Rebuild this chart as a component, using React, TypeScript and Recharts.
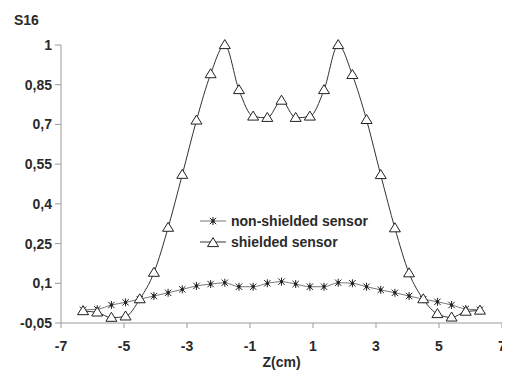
import { Line, LineChart, XAxis, YAxis } from "recharts";

// probe position along the axis (cm)
const zPositions = [
  -6.3, -5.85, -5.4, -4.95, -4.5, -4.05, -3.6, -3.15, -2.7, -2.25, -1.8, -1.35, -0.9, -0.45, 0,
  0.45, 0.9, 1.35, 1.8, 2.25, 2.7, 3.15, 3.6, 4.05, 4.5, 4.95, 5.4, 5.85, 6.3,
];

const nonShielded = [
  0.0, 0.002, 0.018, 0.028, 0.04, 0.052, 0.064, 0.077, 0.09, 0.097, 0.102, 0.087, 0.087, 0.1, 0.106,
  0.097, 0.087, 0.087, 0.102, 0.1, 0.087, 0.075, 0.064, 0.052, 0.04, 0.03, 0.018, 0.003, 0.0,
];

const shielded = [
  -0.005, -0.01, -0.03, -0.025, 0.04, 0.14, 0.31, 0.51, 0.715, 0.89, 1.0, 0.83, 0.73, 0.725, 0.79,
  0.725, 0.73, 0.83, 1.0, 0.887, 0.717, 0.509, 0.308, 0.138, 0.04, -0.016, -0.029, -0.007, -0.003,
];

const xTicks = [-7, -5, -3, -1, 1, 3, 5, 7];
const yTicks = [-0.05, 0.1, 0.25, 0.4, 0.55, 0.7, 0.85, 1];

const data = zPositions.map((z, i) => ({
  z,
  nonShielded: nonShielded[i],
  shielded: shielded[i],
}));

const FONT = "'Liberation Sans', Arial, sans-serif";
const AXIS_GREY = "#9a9a9a";
const TEXT = "#2a2a2a";

const fmt = (v: number) => String(v).replace(".", ",");

function Star({ cx, cy, color = "#222" }: { cx: number; cy: number; color?: string }) {
  const r = 4;
  const d = r * 0.8;
  return (
    <g stroke={color} strokeWidth={1}>
      <line x1={cx} y1={cy - r} x2={cx} y2={cy + r} />
      <line x1={cx - d} y1={cy - d} x2={cx + d} y2={cy + d} />
      <line x1={cx - d} y1={cy + d} x2={cx + d} y2={cy - d} />
      <circle cx={cx} cy={cy} r={1.2} fill={color} />
    </g>
  );
}

function Triangle({ cx, cy }: { cx: number; cy: number }) {
  const w = 5.5;
  const h = 9;
  return (
    <path
      d={`M${cx},${cy - h * 0.6} L${cx + w},${cy + h * 0.4} L${cx - w},${cy + h * 0.4} Z`}
      fill="#fff"
      stroke="#222"
      strokeWidth={1}
    />
  );
}

const starDot = (props: any) => <Star key={`s${props.index}`} cx={props.cx} cy={props.cy} />;
const triDot = (props: any) => <Triangle key={`t${props.index}`} cx={props.cx} cy={props.cy} />;

function LegendBox() {
  const rows = [
    { label: "non-shielded sensor", kind: "star", stroke: "#777" },
    { label: "shielded sensor", kind: "tri", stroke: "#333" },
  ];
  return (
    <div
      style={{
        position: "absolute",
        left: 191,
        top: 202,
        fontFamily: FONT,
        fontWeight: "bold",
        fontSize: 14,
        color: TEXT,
      }}
    >
      {rows.map((r) => (
        <div key={r.label} style={{ display: "flex", alignItems: "center", height: 21 }}>
          <svg width={28} height={14} style={{ marginRight: 4 }}>
            <line x1={1} y1={7} x2={27} y2={7} stroke={r.stroke} strokeWidth={1} />
            {r.kind === "star" ? <Star cx={14} cy={7} /> : <Triangle cx={14} cy={8} />}
          </svg>
          <span>{r.label}</span>
        </div>
      ))}
    </div>
  );
}

export default function App() {
  return (
    <div style={{ position: "relative", width: 502, height: 370 }}>
      <span
        style={{
          position: "absolute",
          left: 6,
          top: 4,
          fontFamily: FONT,
          fontWeight: "bold",
          fontSize: 14,
          color: TEXT,
        }}
      >
        S16
      </span>
      <LineChart
        width={502}
        height={370}
        data={data}
        margin={{ top: 37, right: 8, bottom: 7, left: 8 }}
      >
        <XAxis
          dataKey="z"
          type="number"
          domain={[-7, 7]}
          ticks={xTicks}
          stroke={AXIS_GREY}
          tickSize={5}
          tickMargin={13}
          height={48}
          tick={{ fill: TEXT, fontSize: 14, fontWeight: "bold", fontFamily: FONT }}
          label={{
            value: "Z(cm)",
            position: "insideBottom",
            offset: 4,
            fill: TEXT,
            fontSize: 14,
            fontWeight: "bold",
            fontFamily: FONT,
          }}
        />
        <YAxis
          type="number"
          domain={[-0.05, 1]}
          ticks={yTicks}
          interval={0}
          width={45}
          stroke={AXIS_GREY}
          tickSize={6}
          tickMargin={3}
          tickFormatter={fmt}
          tick={{ fill: TEXT, fontSize: 14, fontWeight: "bold", fontFamily: FONT }}
        />
        <Line
          type="monotone"
          dataKey="nonShielded"
          stroke="#777"
          strokeWidth={1}
          dot={starDot}
          activeDot={false}
          isAnimationActive={false}
        />
        <Line
          type="monotone"
          dataKey="shielded"
          stroke="#333"
          strokeWidth={1}
          dot={triDot}
          activeDot={false}
          isAnimationActive={false}
        />
      </LineChart>
      <LegendBox />
    </div>
  );
}
